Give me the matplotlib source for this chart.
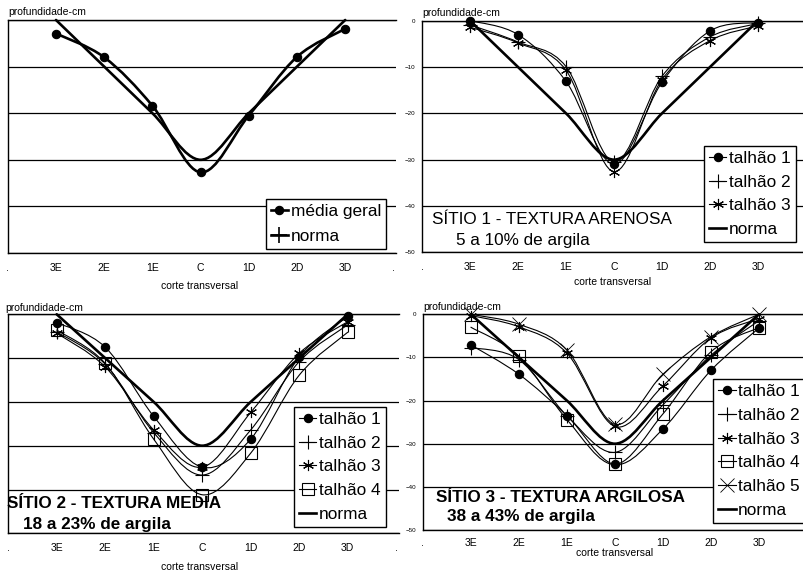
import matplotlib
matplotlib.use('Agg')
import matplotlib.pyplot as plt
from matplotlib.path import Path
from matplotlib.patches import PathPatch
from matplotlib.lines import Line2D

plt.rcParams['font.family'] = ['Liberation Sans', 'DejaVu Sans']

# x categories (the '.' at both ends are just empty slots)
cortes = ['.', '3E', '2E', '1E', 'C', '1D', '2D', '3D', '.']
pos = [1, 2, 3, 4, 5, 6, 7]

norma = [0, -10, -20, -30, -20, -10, 0]

# geral
media_geral = [-2.9, -8.0, -18.4, -32.7, -20.5, -7.9, -1.9]

# sitio 1 - arenosa
s1_talhao1 = [0, -3.0, -13.1, -31.0, -13.3, -2.2, -0.4]
s1_talhao2 = [-0.9, -4.6, -9.9, -30.5, -12.0, -3.5, -0.6]
s1_talhao3 = [-1.4, -4.8, -10.7, -32.6, -12.7, -4.3, -1.1]

# sitio 2 - media
s2_talhao1 = [-1.9, -7.5, -23.3, -34.9, -28.5, -9.7, -0.5]
s2_talhao2 = [-4.0, -11.4, -27.0, -36.7, -26.4, -10.8, -2.4]
s2_talhao3 = [-4.3, -12.0, -26.4, -34.9, -22.4, -8.9, -1.7]
s2_talhao4 = [-3.6, -11.2, -28.5, -41.2, -31.7, -13.9, -4.1]

# sitio 3 - argilosa
s3_talhao1 = [-7.1, -13.9, -23.5, -34.8, -26.6, -13.0, -3.2]
s3_talhao2 = [-7.7, -10.5, -23.5, -32.0, -21.0, -9.5, -1.5]
s3_talhao3 = [-0.3, -2.9, -9.0, -26.0, -16.6, -5.5, -1.0]
s3_talhao4 = [-3.0, -9.7, -24.4, -34.8, -23.1, -8.7, -3.1]
s3_talhao5 = [0, -2.3, -8.3, -25.5, -13.9, -5.2, 0]

W, H = 804, 573


def fpos(x, y):
    # pixel position -> figure fraction
    return x / W, 1 - y / H


def rect(left, top, right, bottom):
    return [left / W, 1 - bottom / H, (right - left) / W, (bottom - top) / H]


def smooth_path(xs, ys):
    """Excel-like smoothed line: cubic bezier through the points."""
    pts = list(zip(xs, ys))
    n = len(pts)
    verts = [pts[0]]
    codes = [Path.MOVETO]
    for i in range(n - 1):
        p0 = pts[i - 1] if i > 0 else pts[i]
        p1 = pts[i]
        p2 = pts[i + 1]
        p3 = pts[i + 2] if i + 2 < n else pts[i + 1]
        c1 = (p1[0] + (p2[0] - p0[0]) / 6, p1[1] + (p2[1] - p0[1]) / 6)
        c2 = (p2[0] - (p3[0] - p1[0]) / 6, p2[1] - (p3[1] - p1[1]) / 6)
        verts += [c1, c2, p2]
        codes += [Path.CURVE4] * 3
    return Path(verts, codes)


def draw_series(ax, ys, lw=0.8, marker=None, ms=6, mfc='black', mew=0.8, show_marker=True):
    ax.add_patch(PathPatch(smooth_path(pos, ys), fill=False, lw=lw, ec='black',
                           joinstyle='round', capstyle='round', clip_on=False, zorder=3))
    if marker and show_marker:
        ax.plot(pos, ys, ls='none', marker=marker, ms=ms, mfc=mfc, mec='black',
                mew=mew, clip_on=False, zorder=4)
    return Line2D([], [], color='black', lw=lw, marker=marker, ms=ms, mfc=mfc,
                  mec='black', mew=mew)


def setup_axes(ax, show_y, right_dot=True, xpad=7):
    ax.set_xlim(0, 8.05)
    ax.set_ylim(-50, 0)
    ax.set_xticks(range(9))
    labels = list(cortes)
    if not right_dot:
        labels[-1] = ''
    ax.set_xticklabels(labels, fontsize=7.5)
    ax.set_xticks(pos, minor=True)
    ax.set_yticks([0, -10, -20, -30, -40, -50])
    ax.grid(axis='x', which='minor', color='#6e6e6e', lw=1.0)
    ax.grid(axis='y', which='major', color='black', lw=0.9)
    ax.tick_params(axis='x', which='both', length=0, pad=xpad)
    ax.tick_params(axis='y', length=0, pad=5, labelsize=4.5)
    if not show_y:
        ax.set_yticklabels([])
    ax.spines['right'].set_visible(False)
    for s in ['left', 'bottom', 'top']:
        ax.spines[s].set_color('black')
        ax.spines[s].set_linewidth(1.0)
    ax.set_axisbelow(True)


def add_legend(fig, ax, handles, labels, x, y, spacing=0.5):
    leg = ax.legend(handles, labels, loc='upper left', bbox_to_anchor=fpos(x, y),
                    bbox_transform=fig.transFigure, fontsize=12.4, frameon=True,
                    fancybox=False, framealpha=1, edgecolor='black', borderpad=0.3,
                    handlelength=1.0, handletextpad=0.15, labelspacing=spacing,
                    borderaxespad=0)
    leg.get_frame().set_linewidth(1.0)
    leg.set_zorder(10)


fig = plt.figure(figsize=(W / 100, H / 100), dpi=100)

ax1 = fig.add_axes(rect(7.8, 20, 7.8 + 8.05 * 48.2, 253))
ax2 = fig.add_axes(rect(422, 20.7, 422 + 8.05 * 48.0, 252.3))
ax3 = fig.add_axes(rect(8.2, 314.3, 8.2 + 8.05 * 48.5, 533.3))
ax4 = fig.add_axes(rect(422.9, 314.3, 422.9 + 8.05 * 48.0, 530))

setup_axes(ax1, False)
setup_axes(ax2, True, right_dot=False)
setup_axes(ax3, False)
setup_axes(ax4, True, right_dot=False, xpad=5.5)

# panel 1 - media geral
h_media = draw_series(ax1, media_geral, lw=1.9, marker='o', ms=6)
h_norma1 = draw_series(ax1, norma, lw=1.9, marker='+', ms=11, mew=1.2, show_marker=False)
add_legend(fig, ax1, [h_media, h_norma1], ['média geral', 'norma'], 265.7, 199, spacing=0.55)

# panel 2 - sitio 1
star = (6, 2, 0)
h1 = draw_series(ax2, s1_talhao1, marker='o', ms=6)
h2 = draw_series(ax2, s1_talhao2, marker='+', ms=10)
h3 = draw_series(ax2, s1_talhao3, marker=star, ms=8)
hn = draw_series(ax2, norma, lw=1.9)
add_legend(fig, ax2, [h1, h2, h3, hn], ['talhão 1', 'talhão 2', 'talhão 3', 'norma'], 704, 145.7)

# panel 3 - sitio 2
h1 = draw_series(ax3, s2_talhao1, marker='o', ms=6)
h2 = draw_series(ax3, s2_talhao2, marker='+', ms=10)
h3 = draw_series(ax3, s2_talhao3, marker=star, ms=8)
h4 = draw_series(ax3, s2_talhao4, marker='s', ms=8, mfc='none')
hn = draw_series(ax3, norma, lw=1.9)
add_legend(fig, ax3, [h1, h2, h3, h4, hn],
           ['talhão 1', 'talhão 2', 'talhão 3', 'talhão 4', 'norma'], 294, 406.7)

# panel 4 - sitio 3
h1 = draw_series(ax4, s3_talhao1, marker='o', ms=6)
h2 = draw_series(ax4, s3_talhao2, marker='+', ms=10)
h3 = draw_series(ax4, s3_talhao3, marker=star, ms=8)
h4 = draw_series(ax4, s3_talhao4, marker='s', ms=8, mfc='none')
h5 = draw_series(ax4, s3_talhao5, marker='x', ms=10, mew=0.6)
hn = draw_series(ax4, norma, lw=1.9)
add_legend(fig, ax4, [h1, h2, h3, h4, h5, hn],
           ['talhão 1', 'talhão 2', 'talhão 3', 'talhão 4', 'talhão 5', 'norma'], 713.3, 379)

# axis titles
for x, y in [(8, 12), (422, 13), (5, 308), (423, 307)]:
    fig.text(*fpos(x, y), 'profundidade-cm', fontsize=7.5, ha='left', va='center')
for x, y in [(200, 286), (613, 282), (200, 566.7), (615, 553)]:
    fig.text(*fpos(x, y), 'corte transversal', fontsize=7.5, ha='center', va='center')

# site labels
fig.text(*fpos(432, 220), 'SÍTIO 1 - TEXTURA ARENOSA', fontsize=12.3, va='center', zorder=5)
fig.text(*fpos(456, 240), '5 a 10% de argila', fontsize=12.3, va='center', zorder=5)
fig.text(*fpos(7, 503.3), 'SÍTIO 2 - TEXTURA MEDIA', fontsize=12.3, fontweight='bold',
         va='center', zorder=5)
fig.text(*fpos(22.7, 524.3), '18 a 23% de argila', fontsize=12.3, fontweight='bold',
         va='center', zorder=5)
fig.text(*fpos(436, 497.7), 'SÍTIO 3 - TEXTURA ARGILOSA', fontsize=12.3, fontweight='bold',
         va='center', zorder=5)
fig.text(*fpos(446.7, 516.7), '38 a 43% de argila', fontsize=12.3, fontweight='bold',
         va='center', zorder=5)

fig.savefig('out.png', dpi=100)
